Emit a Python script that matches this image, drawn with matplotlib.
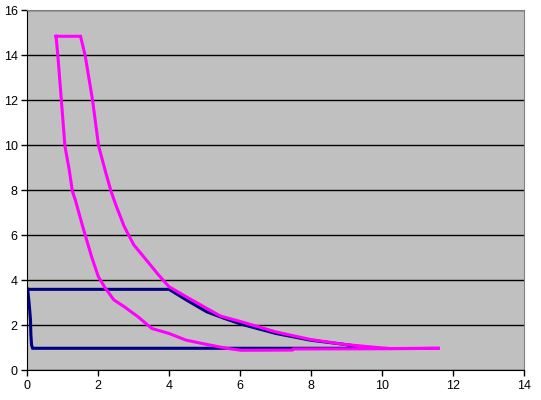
import matplotlib
matplotlib.use('Agg')
import matplotlib.pyplot as plt

# navy loop (low pressure cycle)
navy_x = [0.01, 4.0, 4.48, 5.06, 5.55, 6.03, 7.0, 7.98, 8.95, 9.44, 9.7,
          0.15, 0.12, 0.1, 0.09, 0.05, 0.01]
navy_y = [3.6, 3.6, 3.13, 2.6, 2.31, 2.05, 1.64, 1.34, 1.15, 1.04, 0.98,
          0.98, 1.12, 1.6, 2.23, 3.0, 3.6]

# magenta loop (high pressure cycle)
mag_x = [0.81, 1.5, 1.63, 1.84, 2.01, 2.2, 2.36, 2.51, 2.73, 3.0, 3.31, 3.7,
         3.99, 4.48, 5.06, 5.45, 6.03, 7.0, 7.98, 8.95, 9.68, 10.21, 11.62,
         10.2, 7.5, 7.47, 6.03, 5.65, 5.06, 4.48, 3.99, 3.51, 3.12, 2.73, 2.44,
         2.2, 2.0, 1.81, 1.56, 1.35, 1.27, 1.18, 1.06, 0.96, 0.86, 0.81]
mag_y = [14.85, 14.85, 14.0, 12.0, 9.97, 8.85, 7.96, 7.29, 6.4, 5.58, 4.99,
         4.24, 3.72, 3.27, 2.75, 2.41, 2.16, 1.71, 1.37, 1.15, 1.04, 0.97, 0.98,
         0.96, 0.95, 0.9, 0.89, 0.97, 1.15, 1.34, 1.64, 1.86, 2.38, 2.83, 3.13,
         3.65, 4.17, 5.06, 6.4, 7.59, 7.96, 8.93, 9.97, 12.0, 14.0, 14.85]

plt.rcParams['font.family'] = ['Liberation Sans', 'DejaVu Sans']

fig = plt.figure(figsize=(5.41, 4.0), dpi=100)
ax = fig.add_axes([0.0505, 0.0742, 0.918, 0.8998])
ax.set_facecolor('#C0C0C0')

ax.plot(navy_x, navy_y, color='#000080', lw=2.2, solid_joinstyle='miter')
ax.plot(mag_x, mag_y, color='#FF00FF', lw=2.2, solid_joinstyle='miter')

ax.set_xlim(0, 14)
ax.set_ylim(0, 16)
ax.set_xticks(range(0, 15, 2))
ax.set_yticks(range(0, 17, 2))
ax.yaxis.grid(True, color='black', lw=1)
ax.set_axisbelow(True)
ax.tick_params(direction='out', length=4, width=1, labelsize=9, pad=3)

for s in ['left', 'bottom']:
    ax.spines[s].set_color('black')
for s in ['top', 'right']:
    ax.spines[s].set_color('#808080')

fig.savefig('out.png', dpi=100)
